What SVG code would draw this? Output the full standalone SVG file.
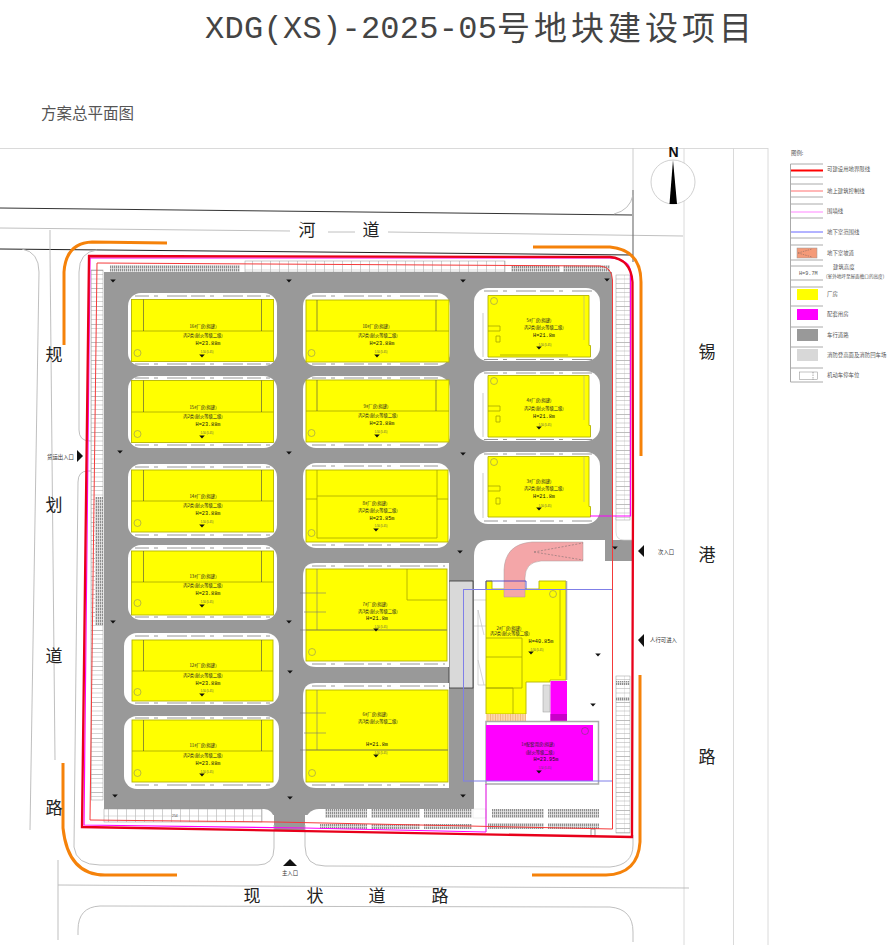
<svg xmlns="http://www.w3.org/2000/svg" xmlns:xlink="http://www.w3.org/1999/xlink" width="889" height="952" viewBox="0 0 889 952">
<style>
text{font-family:"Noto Sans CJK SC","Liberation Sans",sans-serif;fill:#222}
.road{font-size:17px;fill:#222;text-anchor:middle}
.lg{font-size:5.4px;fill:#555}
.t{font-size:4.3px;text-anchor:middle;fill:#222}
.h{font-family:"Liberation Mono",monospace;font-size:5.200px;text-anchor:middle;fill:#111}
.e{font-family:"Liberation Sans",sans-serif;font-size:2.6px;text-anchor:middle;fill:#555}
.f{font-family:"Liberation Sans",sans-serif;font-size:3.4px;fill:#444}
.ent{font-size:5.4px;fill:#333}
.y{fill:#ffff00;stroke:#b4b400;stroke-width:.9}
.l{fill:none;stroke:#a6a600;stroke-width:.8}
.d{fill:none;stroke:#444;stroke-width:.6}
.isl{fill:#fff}
.tick{fill:none;stroke:#8a8a8a;stroke-width:.9;stroke-dasharray:14 5 4 9 20 4}
.rd{fill:none;stroke:#b8b8b8;stroke-width:.9}
.or{fill:none;stroke:#f5820a;stroke-width:3}
.lgl{fill:none;stroke:#aaa;stroke-width:1}
.cir{fill:none;stroke:#777;stroke-width:.5}
</style>
<defs>
<pattern id="hatch" width="2" height="3" patternUnits="userSpaceOnUse"><rect width="2" height="3" fill="#d8d8d8"/><rect width="1" height="3" fill="#8e8e8e"/><rect y="1" width="2" height=".6" fill="#eee"/></pattern>
<pattern id="gridV" width="13" height="18" patternUnits="userSpaceOnUse"><rect width="13" height="18" fill="#fff"/><path d="M0 0H13" stroke="#444" stroke-width=".7"/><path d="M0 4.500H13M0 9H13M0 13.500H13M0 .5V18" stroke="#aaa" stroke-width=".5"/></pattern>
<pattern id="gridH" width="9" height="14" patternUnits="userSpaceOnUse"><rect width="9" height="14" fill="#fff"/><path d="M0 0V14" stroke="#777" stroke-width=".7"/><path d="M0 4H9" stroke="#bbb" stroke-width=".5"/></pattern>
<pattern id="peach" width="2.500" height="7" patternUnits="userSpaceOnUse"><rect width="2.500" height="7" fill="#fcd9ae"/><rect width=".8" height="7" fill="#f3b47a"/></pattern>
<path id="m" d="M-2.800 -1.400H2.800L0 1.600Z" fill="#111"/>
</defs>

<g id="title">
<text x="205" y="38" style="font-family:'Liberation Mono',monospace;font-size:32px;fill:#444" textLength="292">XDG(XS)-2025-05</text>
<text x="497" y="40" style="font-size:33px;fill:#444;letter-spacing:4px">号地块建设项目</text>
<text x="41" y="119" style="font-size:15.500px;fill:#555">方案总平面图</text>
</g>

<g id="site-base">
<rect x="104" y="272" width="508" height="543" fill="#999"/>
<rect x="605" y="540" width="28" height="21" fill="#999"/>
<path d="M474 815V556Q474 540 490 540H605V561H612V815Z" fill="#fff"/>
<rect x="104" y="809" width="170" height="30" rx="10" fill="#fff"/>
<rect x="305" y="809" width="327" height="30" rx="14" fill="#fff"/>
<rect x="274" y="800" width="31" height="30" fill="#999"/>
<rect x="449" y="581" width="24" height="107" fill="#d9d9d9" stroke="#333" stroke-width=".8"/>
<rect x="612" y="500" width="20" height="40" fill="#fff"/>
<rect x="605" y="540" width="28" height="21" fill="#999"/>
<path d="M616 516V532Q616 540 624 540H633" fill="none" stroke="#ccc" stroke-width=".7"/>
</g>

<g id="roads">
<path class="rd" style="stroke:#d6d6d6" d="M0 148.500H768M684 148V945M733.500 148V945M768 148V945"/>
<path d="M0 208L632 215" fill="none" stroke="#333" stroke-width="1"/>
<path d="M0 228L290 231M328 232L355 232M388 232L683 236" fill="none" stroke="#c0c0c0" stroke-width="1"/>
<path d="M0 249L633 255" fill="none" stroke="#222" stroke-width="1"/>
<path d="M633 148V190" fill="none" stroke="#ccc" stroke-width="1"/>
<path d="M633 190V262" fill="none" stroke="#777" stroke-width="1.200"/>
<path class="rd" d="M614 214Q630 210 633 195"/>
<path class="rd" d="M22 249Q39 252 39 272L30 830M50 230V250L55 760M97 250Q79 252 79 272V430Q79 441 90 441H103M103 471H88Q78 471 78 482L74 847Q76 865 100 865H258Q274 865 274 848V825"/>
<path class="rd" d="M305 825V846Q305 866 325 866L610 867Q633 865 633 845V835"/>
<path class="rd" d="M58 860V940M58 885L240 886L689 888M100 906L610 907Q633 909 633 932V942M78 935V930Q78 907 100 906"/>
<g id="or"><path class="or" d="M64 345V272Q66 243 92 242L167 243"/>
<path class="or" d="M533 247L610 247Q641 250 641 282V456"/>
<path class="or" d="M640 675V842Q638 874 606 875H532"/>
<path class="or" d="M63 763V828Q68 875 105 875H177"/></g>
</g>

<g id="parking">
<rect x="91" y="270" width="12" height="530" fill="url(#gridV)" stroke="#999" stroke-width=".5"/>
<rect x="616" y="275" width="14" height="245" fill="url(#gridV)" stroke="#999" stroke-width=".5"/>
<rect x="616" y="676" width="14" height="157" fill="url(#gridV)" stroke="#999" stroke-width=".5"/>
<rect x="616" y="681" width="14" height="4" fill="url(#hatch)"/>
<rect x="616" y="697" width="14" height="4" fill="url(#hatch)"/>
<rect x="95" y="497" width="8" height="128" fill="url(#hatch)"/>
<rect x="245" y="261" width="260" height="11" fill="url(#gridH)" stroke="#999" stroke-width=".5"/>
<rect x="104" y="809" width="158" height="13" fill="url(#gridH)" stroke="#999" stroke-width=".5"/>
<rect x="110" y="265" width="130" height="7" fill="url(#hatch)"/>
<rect x="511" y="265" width="49" height="7" fill="url(#hatch)"/>
<rect x="563" y="265" width="47" height="7" fill="url(#hatch)"/>
<rect x="325" y="809" width="42" height="9" fill="url(#hatch)"/>
<rect x="371" y="809" width="49" height="9" fill="url(#hatch)"/>
<rect x="424" y="809" width="48" height="9" fill="url(#hatch)"/>
<rect x="320" y="824" width="47" height="5" fill="url(#hatch)"/>
<rect x="371" y="824" width="49" height="5" fill="url(#hatch)"/>
<rect x="424" y="824" width="48" height="5" fill="url(#hatch)"/>
<rect x="492" y="809" width="52" height="9" fill="url(#hatch)"/>
<rect x="548" y="809" width="51" height="9" fill="url(#hatch)"/>
<rect x="488" y="823" width="56" height="6" fill="url(#hatch)"/>
<rect x="548" y="823" width="51" height="6" fill="url(#hatch)"/>
<rect x="473" y="809" width="13" height="9" fill="#fff" stroke="#ddd" stroke-width=".5"/>
<rect x="591" y="829" width="4" height="7" fill="#fff" stroke="#555" stroke-width=".6"/>
<text class="f" x="172" y="816.500">254</text>
</g>

<g id="b16"><rect class="isl" x="128" y="293" width="149" height="73" rx="13"/><path class="tick" d="M135 296H270M135 364H270"/><rect class="y" x="131.500" y="299.500" width="142" height="62"/><path class="l" d="M131.500 331H273.500"/><path class="d" d="M143.500 299.500V331M261.500 299.500V331"/><circle class="cir" cx="137.500" cy="353" r="3.500"/><text class="t" x="203" y="328">16#厂房(拟建)</text><text class="t" x="203" y="337">丙2类(耐火等级二级)</text><text class="h" x="208" y="345">H=23.88m</text><text class="e" x="207" y="353">5.50 (5.45)</text><use href="#m" x="202" y="356"/></g>
<g id="b15"><rect class="isl" x="128" y="376" width="149" height="72" rx="13"/><path class="tick" d="M135 378H270M135 445H270"/><rect class="y" x="131.500" y="380.500" width="142" height="62"/><path class="l" d="M131.500 412H273.500"/><path class="d" d="M143.500 380.500V412M261.500 380.500V412"/><circle class="cir" cx="137.500" cy="434" r="3.500"/><text class="t" x="203" y="409">15#厂房(拟建)</text><text class="t" x="203" y="418">丙2类(耐火等级二级)</text><text class="h" x="208" y="426">H=23.88m</text><text class="e" x="207" y="434">5.50 (5.45)</text><use href="#m" x="202" y="437"/></g>
<g id="b14"><rect class="isl" x="128" y="464" width="149" height="74" rx="13"/><path class="tick" d="M135 467H270M135 535H270"/><rect class="y" x="131.500" y="470" width="142" height="62"/><path class="l" d="M131.500 501H273.500"/><path class="d" d="M143.500 470V501M261.500 470V501"/><circle class="cir" cx="137.500" cy="523" r="3.500"/><text class="t" x="203" y="498">14#厂房(拟建)</text><text class="t" x="203" y="507">丙2类(耐火等级二级)</text><text class="h" x="208" y="515">H=23.88m</text><text class="e" x="207" y="523">5.50 (5.45)</text><use href="#m" x="202" y="526"/></g>
<g id="b13"><rect class="isl" x="128" y="545" width="149" height="75" rx="13"/><path class="tick" d="M135 548H270M135 617H270"/><rect class="y" x="131.500" y="551" width="142" height="64"/><path class="l" d="M131.500 582H273.500"/><path class="d" d="M143.500 551V582M261.500 551V582"/><circle class="cir" cx="137.500" cy="603" r="3.500"/><text class="t" x="203" y="578">13#厂房(拟建)</text><text class="t" x="203" y="587">丙2类(耐火等级二级)</text><text class="h" x="208" y="595">H=23.88m</text><text class="e" x="207" y="603">5.50 (5.45)</text><use href="#m" x="202" y="606"/></g>
<g id="b12"><rect class="isl" x="124" y="633" width="155" height="72" rx="13"/><path class="tick" d="M135 636H270M135 703H270"/><rect class="y" x="132" y="640" width="141" height="61"/><path class="l" d="M132 671H273"/><path class="d" d="M143.500 640V671M261.500 640V671"/><circle class="cir" cx="137.500" cy="692" r="3.500"/><text class="t" x="203" y="667">12#厂房(拟建)</text><text class="t" x="203" y="677">丙2类(耐火等级二级)</text><text class="h" x="208" y="685">H=23.88m</text><text class="e" x="207" y="692">5.50 (5.45)</text><use href="#m" x="202" y="695"/></g>
<g id="b11"><rect class="isl" x="124" y="716" width="155" height="73" rx="13"/><path class="tick" d="M135 718H270M135 785H270"/><rect class="y" x="132" y="720" width="141" height="62"/><path class="l" d="M132 751H273"/><path class="d" d="M143.500 720V751M261.500 720V751"/><circle class="cir" cx="137.500" cy="773" r="3.500"/><text class="t" x="203" y="747">11#厂房(拟建)</text><text class="t" x="203" y="757">丙2类(耐火等级二级)</text><text class="h" x="208" y="765">H=23.88m</text><text class="e" x="207" y="773">5.50 (5.45)</text><use href="#m" x="202" y="775"/></g>

<g id="b10"><rect class="isl" x="303" y="293" width="147" height="73" rx="13"/><path class="tick" d="M312 296H442M312 364H442"/><rect class="y" x="306" y="300" width="143" height="62"/><path class="l" d="M306 331H449"/><path class="d" d="M317 300V331M436 300V331"/><circle class="cir" cx="311.500" cy="353" r="3.500"/><text class="t" x="376" y="328">10#厂房(拟建)</text><text class="t" x="378" y="337">丙2类(耐火等级二级)</text><text class="h" x="382" y="345">H=23.88m</text><text class="e" x="381" y="353">5.50 (5.45)</text><use href="#m" x="377" y="356"/></g>
<g id="b9"><rect class="isl" x="303" y="376" width="147" height="72" rx="13"/><path class="tick" d="M312 378H442M312 445H442"/><rect class="y" x="306" y="380" width="143" height="62"/><path class="l" d="M306 411H449"/><path class="d" d="M317 380V411M436 380V411"/><circle class="cir" cx="311.500" cy="433" r="3.500"/><text class="t" x="376" y="408">9#厂房(拟建)</text><text class="t" x="378" y="417">丙2类(耐火等级二级)</text><text class="h" x="382" y="425">H=23.88m</text><text class="e" x="381" y="433">5.50 (5.45)</text><use href="#m" x="377" y="436"/></g>
<g id="b8"><rect class="isl" x="303" y="463" width="147" height="85" rx="13"/><path class="tick" d="M312 466H442M312 545H442"/><rect class="y" x="306" y="470" width="142" height="72"/><path class="l" d="M317 470V538H437V470M317 496H437M306 499H317M437 499H448"/><circle class="cir" cx="311.500" cy="533" r="3.500"/><text class="t" x="375" y="505">8#厂房(拟建)</text><text class="t" x="378" y="512">丙2类(耐火等级二级)</text><text class="h" x="382" y="520">H=23.85m</text><text class="e" x="381" y="527">5.50 (5.45)</text><use href="#m" x="376" y="530"/></g>
<g id="b7"><path class="isl" d="M316 563H449V667H316Q303 667 303 654V576Q303 563 316 563Z"/><path class="tick" d="M312 566H445M312 664H445"/><rect class="y" x="306" y="569" width="141" height="92"/><path class="l" d="M306 630H447M407 569V600H447"/><path class="d" d="M300 593H326M304 612H326M317 569V630M300 630H447" style="stroke:#777"/><circle class="cir" cx="312" cy="652" r="3.500"/><text class="t" x="375" y="606">7#厂房(拟建)</text><text class="t" x="378" y="613">丙3类(耐火等级二级)</text><text class="h" x="377" y="620">H=21.8m</text><text class="e" x="381" y="628">5.50 (5.45)</text><use href="#m" x="376" y="630"/></g>
<g id="b6"><path class="isl" d="M316 683H449V788H316Q303 788 303 775V696Q303 683 316 683Z"/><path class="tick" d="M312 686H445M312 785H445"/><rect class="y" x="306" y="690" width="142" height="92"/><path class="l" d="M306 750H448"/><path class="d" d="M300 713H326M304 733H326M317 690V750M300 750H448" style="stroke:#777"/><circle class="cir" cx="312" cy="773" r="3.500"/><text class="t" x="375" y="716">6#厂房(拟建)</text><text class="t" x="378" y="723">丙3类(耐火等级二级)</text><text class="h" x="377" y="746">H=21.8m</text><text class="e" x="381" y="754">5.50 (5.45)</text><use href="#m" x="376" y="756"/></g>

<g id="b5"><rect class="isl" x="474" y="288" width="126" height="73" rx="14"/><path class="tick" d="M484 291H592M484 359.500H592"/><path class="y" d="M488 295.500H589V345.500H590.500V357H488Z"/><path class="l" d="M488 326H500V331H488M496 336H500V342H496ZM500 355H568"/><path class="d" d="M483 313V357M584 296V340" style="stroke:#aaa"/><circle class="cir" cx="494" cy="301" r="3.500"/><text class="t" x="539" y="322">5#厂房(拟建)</text><text class="t" x="544" y="329">丙2类(耐火等级二级)</text><text class="h" x="544" y="337">H=21.8m</text><text class="e" x="545" y="346">5.50 (5.45)</text><use href="#m" x="539" y="348"/></g>
<g id="b4"><rect class="isl" x="474" y="371" width="126" height="70" rx="14"/><path class="tick" d="M484 373H592M484 439.500H592"/><path class="y" d="M488 375.500H589V425.500H590.500V437H488Z"/><path class="l" d="M488 406H500V411H488M496 416H500V422H496Z"/><path class="d" d="M483 393V437M584 376V420" style="stroke:#aaa"/><circle class="cir" cx="494" cy="381" r="3.500"/><text class="t" x="539" y="402">4#厂房(拟建)</text><text class="t" x="544" y="410">丙2类(耐火等级二级)</text><text class="h" x="544" y="418">H=21.8m</text><text class="e" x="545" y="426">5.50 (5.45)</text><use href="#m" x="539" y="428"/></g>
<g id="b3"><rect class="isl" x="474" y="452" width="126" height="72" rx="14"/><path class="tick" d="M484 454H592M484 521H592"/><path class="y" d="M488 456.500H589V506.500H590.500V517H488Z"/><path class="l" d="M488 486H500V491H488M496 498H500V504H496Z"/><path class="d" d="M483 473V518M584 457V502" style="stroke:#aaa"/><circle class="cir" cx="494" cy="462" r="3.500"/><text class="t" x="539" y="483">3#厂房(拟建)</text><text class="t" x="544" y="490">丙2类(耐火等级二级)</text><text class="h" x="544" y="498">H=21.8m</text><text class="e" x="545" y="507">5.50 (5.45)</text><use href="#m" x="539" y="509"/></g>

<g id="b2">
<path d="M474 600H486M474 626H486M478 610L484 635M478 660L484 685M478 610V685H486" fill="none" stroke="#bbb" stroke-width=".6"/>
<path class="y" d="M486 581H492V589H539V581H566V680H550V682H526V714H486Z"/>
<path d="M566.500 581V680" stroke="#aaa" stroke-width="1.500" fill="none"/>
<path class="l" d="M486 638H522V688H486M486 657H522M486 688H513V714M560 590V676"/>
<rect x="486" y="714" width="40" height="7" fill="url(#peach)"/>
<rect x="543" y="685" width="7" height="27" fill="#ddd" stroke="#999" stroke-width=".5"/>
<rect x="550.500" y="681" width="16.500" height="41" fill="#ff00ff"/>
<rect x="550.500" y="714" width="16.500" height="8" fill="#c800c8"/>
<path id="ramp" d="M504 597V570Q505 544 532 542H583V561H541Q525 562 525 578V597Z" fill="#f4a6a8" stroke="#a99" stroke-width=".5"/>
<path d="M534 552L583 543M534 552L583 560" stroke="#666" stroke-width=".5" stroke-dasharray="2 1.500" fill="none"/>
<path d="M486 589V581H526V589" fill="none" stroke="#33c" stroke-width=".8"/>
<circle class="cir" cx="553" cy="594" r="3.500"/>
<text class="t" x="509" y="630">2#厂房(拟建)</text><text class="t" x="510" y="635">丙2类(耐火等级二级)</text><text class="h" x="541" y="643">H=40.85m</text><text class="e" x="537" y="651">5.50 (5.45)</text><use href="#m" x="531" y="653"/>
</g>
<g id="b1">
<rect x="486" y="721.500" width="112.500" height="62.500" fill="#fff" stroke="#aaa" stroke-width="1.500"/>
<rect x="486" y="725" width="107" height="56" fill="#ff00ff"/>
<circle cx="585" cy="731" r="3.500" fill="none" stroke="#555" stroke-width=".5"/>
<text class="t" x="538" y="746">1#配套用房(拟建)</text><text class="t" x="540" y="754">(耐火等级二级)</text><text class="h" x="546" y="761">H=23.95m</text><text class="e" x="545" y="769">5.50 (5.45)</text><use href="#m" x="539" y="772"/>
</g>

<g id="boundaries">
<rect x="463.500" y="589.500" width="149" height="191.500" fill="none" stroke="#7f7fe8" stroke-width="1"/>
<path d="M486 784V832" stroke="#d0d" stroke-width="1" fill="none"/>
<path d="M590 516H630.500V272Q630 259 610 258L90 258L84 825L305 828L486 832" fill="none" stroke="#ff00ff" stroke-width="1.200"/>
<path d="M97 263L600 266Q612 267 612.500 280V829L275 822L90 820Z" fill="none" stroke="#f43a3a" stroke-width="1"/>
<path d="M89 256L610 257Q631 259 632.500 282L633 500L632 837L82 827Z" fill="none" stroke="#e8001a" stroke-width="2.300"/>
</g>

<g id="markers">
<use href="#m" x="113" y="281"/><use href="#m" x="289" y="281"/><use href="#m" x="463" y="281"/><use href="#m" x="607" y="280"/>
<use href="#m" x="120" y="452"/><use href="#m" x="289" y="453"/><use href="#m" x="463" y="454"/>
<use href="#m" x="113" y="622"/><use href="#m" x="289" y="622"/><use href="#m" x="290" y="672"/><use href="#m" x="460" y="552"/><use href="#m" x="615" y="548"/>
<use href="#m" x="598" y="655"/><use href="#m" x="593" y="705"/>
<use href="#m" x="115" y="796"/><use href="#m" x="290" y="798"/><use href="#m" x="463" y="796"/>
</g>

<g id="compass">
<circle cx="673" cy="182" r="22" fill="#fff" stroke="#bbb" stroke-width=".7"/>
<path d="M673 160L669.500 204H677Z" fill="#000"/>
<text x="673.500" y="157" text-anchor="middle" style="font-family:'Liberation Sans',sans-serif;font-size:14px;font-weight:bold;fill:#111">N</text>
</g>

<g id="labels">
<text class="road" x="307" y="236">河</text><text class="road" x="371" y="236">道</text>
<text class="road" x="54" y="361">规</text><text class="road" x="54" y="511">划</text><text class="road" x="54" y="662">道</text><text class="road" x="54" y="814">路</text>
<text class="road" x="707" y="358">锡</text><text class="road" x="707" y="561">港</text><text class="road" x="707" y="763">路</text>
<text class="road" x="252" y="902">现</text><text class="road" x="315" y="902">状</text><text class="road" x="377" y="902">道</text><text class="road" x="440" y="902">路</text>
<path d="M77 450L83 456L77 462Z" fill="#111"/><text class="ent" x="47" y="459">货运出入口</text>
<path d="M638 551L644 545V557Z" fill="#111"/><text class="ent" x="658" y="554">次入口</text>
<path d="M638 640L644 634V647Z" fill="#111"/><text class="ent" x="650" y="642">人行可进入</text>
<path d="M283 866L290 859L297 866Z" fill="#111"/><text class="ent" x="290" y="875" text-anchor="middle">主入口</text>
</g>

<g id="legend">
<text class="lg" x="791" y="155">图例:</text>
<path class="lgl" d="M790.500 164H823M790.500 177H823M790.500 184H823M790.500 197H823M790.500 204H823M790.500 218H823M790.500 238H823M790.500 245H823M790.500 260H823M790.500 266H823M790.500 280H823M790.500 287H823M790.500 306H823M790.500 327H823M790.500 347H823M790.500 368H823M790.500 382H823M790.500 164V382"/>
<path d="M791 170.500H823" stroke="#f00" stroke-width="2" fill="none"/>
<path d="M791 191H823" stroke="#f88" stroke-width="1.200" fill="none"/>
<path d="M791 212H823" stroke="#f9f" stroke-width="1.200" fill="none"/>
<path d="M791 232H823" stroke="#55f" stroke-width=".9" fill="none"/>
<rect x="797" y="248" width="20" height="10" fill="#f49a78" stroke="#999" stroke-width=".5"/>
<path d="M798 253L812 249M798 253L812 257" stroke="#555" stroke-width=".4" stroke-dasharray="1.500 1" fill="none"/>
<text x="799" y="275" style="font-family:'Liberation Mono',monospace;font-size:5.200px;fill:#555">H=9.7M</text>
<rect x="797" y="289" width="21" height="11" fill="#ff0"/>
<rect x="797" y="309" width="21" height="11" fill="#f0f"/>
<rect x="797" y="329" width="21" height="12" fill="#999"/>
<rect x="797" y="349" width="21" height="12" fill="#d8d8d8"/>
<rect x="799.500" y="372" width="18" height="7.500" fill="#fff" stroke="#888" stroke-width=".5"/>
<path d="M813 372V380" stroke="#555" stroke-width=".5" stroke-dasharray="1.500 1"/>
<text class="lg" x="827" y="171">可建设用地界限线</text>
<text class="lg" x="827" y="193">地上建筑控制线</text>
<text class="lg" x="827" y="213">围墙线</text>
<text class="lg" x="827" y="234">地下室范围线</text>
<text class="lg" x="827" y="255">地下室坡道</text>
<text class="lg" x="833" y="269">建筑高度</text>
<text x="826" y="278" style="font-size:4.600px;fill:#555">(室外地坪至屋面檐口的高度)</text>
<text class="lg" x="827" y="296">厂房</text>
<text class="lg" x="827" y="316">配套用房</text>
<text class="lg" x="827" y="337">车行道路</text>
<text class="lg" x="827" y="357">消防登高面及消防回车场</text>
<text class="lg" x="827" y="377">机动车停车位</text>
</g>
</svg>
